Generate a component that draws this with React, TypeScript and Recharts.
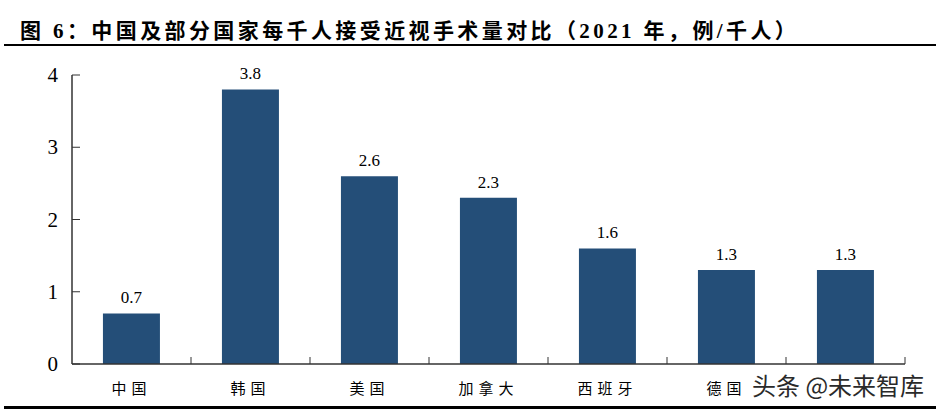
import React from "react";
import { BarChart, Bar, XAxis, YAxis, LabelList } from "recharts";

const categories = ["中国", "韩国", "美国", "加拿大", "西班牙", "德国", "英国"];
const values = [0.7, 3.8, 2.6, 2.3, 1.6, 1.3, 1.3];
const yTicks = [0, 1, 2, 3, 4];
// the last category label is hidden under the watermark in the reference
const hiddenLabels = ["英国"];

const data = categories.map((name, i) => ({ name, value: values[i] }));

const W = 936;
const H = 411;
const M = { top: 75, right: 31, bottom: 0, left: 12 };
const Y_W = 60;
const X_H = 47;
const BAND = (W - M.left - Y_W - M.right) / categories.length;

const SERIF = '"Liberation Serif", "Times New Roman", serif';
const CJK = '"Noto Sans CJK SC", "Liberation Serif", serif';
const TITLE_FONT = '"Liberation Serif", "Noto Sans CJK SC", serif';

const YTick = (props: any) => {
  const { x, y, payload } = props;
  return (
    <g>
      <line x1={x} y1={y} x2={x + 8} y2={y} stroke="#333" strokeWidth={1} />
      <text x={x - 14} y={y} dy={7} textAnchor="end" style={{ fontFamily: SERIF }} fontSize={21} fill="#000">
        {payload.value}
      </text>
    </g>
  );
};

const XTick = (props: any) => {
  const { x, y, payload } = props;
  const bx = x + BAND / 2;
  const show = !hiddenLabels.includes(payload.value);
  return (
    <g>
      <line x1={bx} y1={y} x2={bx} y2={y - 7} stroke="#333" strokeWidth={1} />
      {show && (
        <text x={x} y={y + 30} textAnchor="middle" style={{ fontFamily: CJK }} fontSize={15} letterSpacing={5} fill="#000">
          {payload.value}
        </text>
      )}
    </g>
  );
};

const ValueLabel = (props: any) => {
  const { x, y, width, value } = props;
  return (
    <text x={x + width / 2} y={y - 10} textAnchor="middle" style={{ fontFamily: SERIF }} fontSize={17} fill="#000">
      {value}
    </text>
  );
};

export default function App() {
  return (
    <div style={{ position: "absolute", left: 0, top: 0, width: W, height: H, background: "#fff" }}>
      <div
        style={{
          position: "absolute",
          left: 20,
          top: 14,
          fontFamily: TITLE_FONT,
          fontWeight: "bold",
          fontSize: 21,
          letterSpacing: 3.4,
          whiteSpace: "nowrap",
          color: "#000",
        }}
      >
        图 6：中国及部分国家每千人接受近视手术量对比（2021 年，例/千人）
      </div>
      <div style={{ position: "absolute", left: 4, top: 44, width: W - 4, height: 2, background: "#000" }} />
      <div style={{ position: "absolute", left: 0, top: 0 }}>
        <BarChart width={W} height={H} data={data} margin={M} barCategoryGap="26%">
          <XAxis
            dataKey="name"
            height={X_H}
            axisLine={{ stroke: "#333", strokeWidth: 1.5 }}
            tickLine={false}
            tickSize={0}
            tickMargin={0}
            tick={<XTick />}
            interval={0}
          />
          <YAxis
            width={Y_W}
            domain={[0, 4]}
            ticks={yTicks}
            axisLine={{ stroke: "#333", strokeWidth: 1.5 }}
            tickLine={false}
            tickSize={0}
            tickMargin={0}
            tick={<YTick />}
            interval={0}
          />
          <Bar dataKey="value" fill="#244E78" isAnimationActive={false}>
            <LabelList dataKey="value" content={<ValueLabel />} />
          </Bar>
        </BarChart>
      </div>
      <div
        style={{
          position: "absolute",
          left: 752,
          top: 369,
          fontFamily: CJK,
          fontSize: 24,
          color: "#2a2a2a",
          whiteSpace: "nowrap",
          lineHeight: "32px",
        }}
      >
        头条 @未来智库
      </div>
      <div style={{ position: "absolute", left: 4, top: 406, width: W - 4, height: 3, background: "#000" }} />
    </div>
  );
}
